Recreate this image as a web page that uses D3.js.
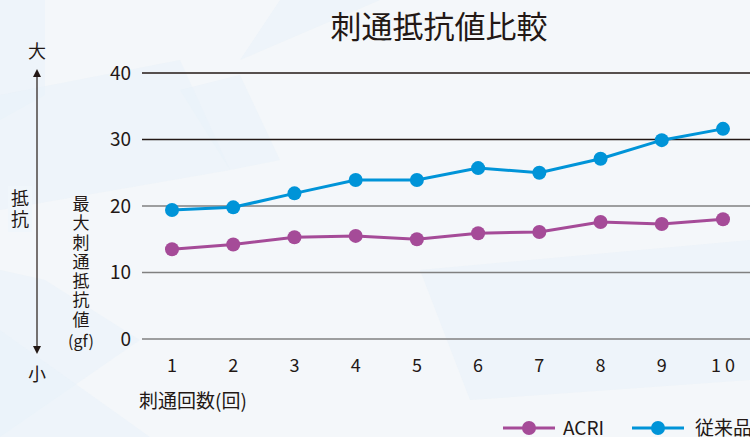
<!DOCTYPE html>
<html>
<head>
<meta charset="utf-8">
<script src="https://cdn.jsdelivr.net/npm/d3@7"></script>
<style>
  body { margin: 0; background: #f3f6fa; }
  svg { display: block; font-family: "Noto Sans CJK JP", "Noto Sans", sans-serif; }
  .vert { writing-mode: vertical-rl; text-orientation: upright; }
</style>
</head>
<body>
<svg id="chart" width="750" height="437"></svg>
<script>
// data
var counts = [1, 2, 3, 4, 5, 6, 7, 8, 9, 10];
var acri = [13.5, 14.2, 15.3, 15.5, 15.0, 15.9, 16.1, 17.6, 17.3, 18.0];
var conventional = [19.4, 19.8, 21.9, 23.9, 23.9, 25.7, 25.0, 27.1, 29.9, 31.6];
var yTicks = [0, 10, 20, 30, 40];
var seriesNames = ["ACRI", "従来品"];

var width = 750, height = 437;
var textColor = "#231815";
var colors = { "ACRI": "#a54b98", "従来品": "#0094d8" };

var svg = d3.select("#chart");

// faint background facets
var bg = svg.append("g");
bg.append("rect").attr("width", width).attr("height", height).attr("fill", "#f4f7fa");
var facets = [
  [[0, 0], [45, 0], [45, 95], [0, 120]],
  [[0, 270], [45, 280], [140, 340], [0, 437]],
  [[0, 330], [150, 437], [0, 437]],
  [[180, 90], [240, 75], [280, 160], [230, 170]],
  [[280, 0], [380, 0], [240, 60]],
  [[420, 270], [750, 240], [750, 380], [470, 400]],
  [[0, 95], [180, 60], [230, 170], [0, 210]]
];
bg.selectAll("polygon").data(facets).enter().append("polygon")
  .attr("points", function(d) { return d.map(function(p) { return p.join(","); }).join(" "); })
  .attr("fill", "#e8f2f9")
  .attr("opacity", 0.5);

var x = d3.scalePoint().domain(counts).range([172, 723]);
var y = d3.scaleLinear().domain([0, 40]).range([339, 73]);

// gridlines
svg.append("g").selectAll("line").data(yTicks).enter().append("line")
  .attr("x1", 142).attr("x2", width)
  .attr("y1", function(d) { return y(d); })
  .attr("y2", function(d) { return y(d); })
  .attr("stroke", function(d) { return d >= 30 ? "#231815" : "#808080"; })
  .attr("stroke-width", 1.5);

// y tick labels
svg.append("g").selectAll("text").data(yTicks).enter().append("text")
  .attr("x", 131).attr("y", function(d) { return y(d); })
  .attr("dy", "0.36em")
  .attr("text-anchor", "end")
  .attr("font-size", 19)
  .attr("fill", textColor)
  .text(function(d) { return d; });

// x tick labels
svg.append("g").selectAll("text").data(counts).enter().append("text")
  .attr("x", function(d) { return x(d); }).attr("y", 372)
  .attr("text-anchor", "middle")
  .attr("font-size", 18)
  .attr("letter-spacing", function(d) { return d >= 10 ? 4 : 0; })
  .attr("dx", function(d) { return d >= 10 ? 2 : 0; })
  .attr("fill", textColor)
  .text(function(d) { return d; });

svg.append("text")
  .attr("x", 139).attr("y", 408)
  .attr("font-size", 19)
  .attr("fill", textColor)
  .text("刺通回数(回)");

// title
svg.append("text")
  .attr("x", 439).attr("y", 38)
  .attr("text-anchor", "middle")
  .attr("font-size", 31)
  .attr("fill", textColor)
  .text("刺通抵抗値比較");

// big/small arrow on the left
var defs = svg.append("defs");
defs.append("marker").attr("id", "head")
  .attr("viewBox", "0 0 10 10").attr("refX", 5).attr("refY", 5)
  .attr("markerWidth", 8).attr("markerHeight", 9)
  .attr("markerUnits", "userSpaceOnUse")
  .attr("orient", "auto-start-reverse")
  .append("path").attr("d", "M0,0L10,5L0,10Z").attr("fill", textColor);
svg.append("line")
  .attr("x1", 37).attr("x2", 37).attr("y1", 73).attr("y2", 350)
  .attr("stroke", textColor).attr("stroke-width", 1.2)
  .attr("marker-start", "url(#head)").attr("marker-end", "url(#head)");
svg.append("text").attr("x", 37).attr("y", 58).attr("text-anchor", "middle")
  .attr("font-size", 18).attr("fill", textColor).text("大");
svg.append("text").attr("x", 37).attr("y", 381).attr("text-anchor", "middle")
  .attr("font-size", 18).attr("fill", textColor).text("小");

// vertical labels
svg.append("rect").attr("x", 8).attr("y", 186).attr("width", 24).attr("height", 46).attr("fill", "#f0f6fb");
svg.append("text").attr("class", "vert")
  .attr("x", 20).attr("y", 189)
  .attr("font-size", 18).attr("letter-spacing", 3)
  .attr("fill", textColor)
  .text("抵抗");
svg.append("text").attr("class", "vert")
  .attr("x", 81).attr("y", 195)
  .attr("font-size", 17).attr("letter-spacing", 2.3)
  .attr("fill", textColor)
  .text("最大刺通抵抗値");
svg.append("text").attr("x", 81).attr("y", 347).attr("text-anchor", "middle")
  .attr("font-size", 16).attr("fill", textColor).text("(gf)");

// series
var series = [
  { name: "ACRI", values: acri },
  { name: "従来品", values: conventional }
];
var line = d3.line()
  .x(function(d, i) { return x(counts[i]); })
  .y(function(d) { return y(d); });

var sg = svg.append("g").selectAll("g").data(series).enter().append("g");
sg.append("path")
  .attr("d", function(d) { return line(d.values); })
  .attr("fill", "none")
  .attr("stroke", function(d) { return colors[d.name]; })
  .attr("stroke-width", 3);
sg.selectAll("circle").data(function(d) { return d.values.map(function(v) { return { v: v, name: d.name }; }); })
  .enter().append("circle")
  .attr("cx", function(d, i) { return x(counts[i]); })
  .attr("cy", function(d) { return y(d.v); })
  .attr("r", 7)
  .attr("fill", function(d) { return colors[d.name]; });

// legend
var legendX = [503, 632];
var lg = svg.append("g").selectAll("g").data(seriesNames).enter().append("g")
  .attr("transform", function(d, i) { return "translate(" + legendX[i] + ",428)"; });
lg.append("line").attr("x1", 0).attr("x2", 52).attr("y1", 0).attr("y2", 0)
  .attr("stroke", function(d) { return colors[d]; }).attr("stroke-width", 3);
lg.append("circle").attr("cx", 26).attr("cy", 0).attr("r", 7)
  .attr("fill", function(d) { return colors[d]; });
lg.append("text").attr("x", function(d, i) { return i === 0 ? 60 : 63; }).attr("y", 7)
  .attr("font-size", 19).attr("fill", textColor)
  .text(function(d) { return d; });
</script>
</body>
</html>
